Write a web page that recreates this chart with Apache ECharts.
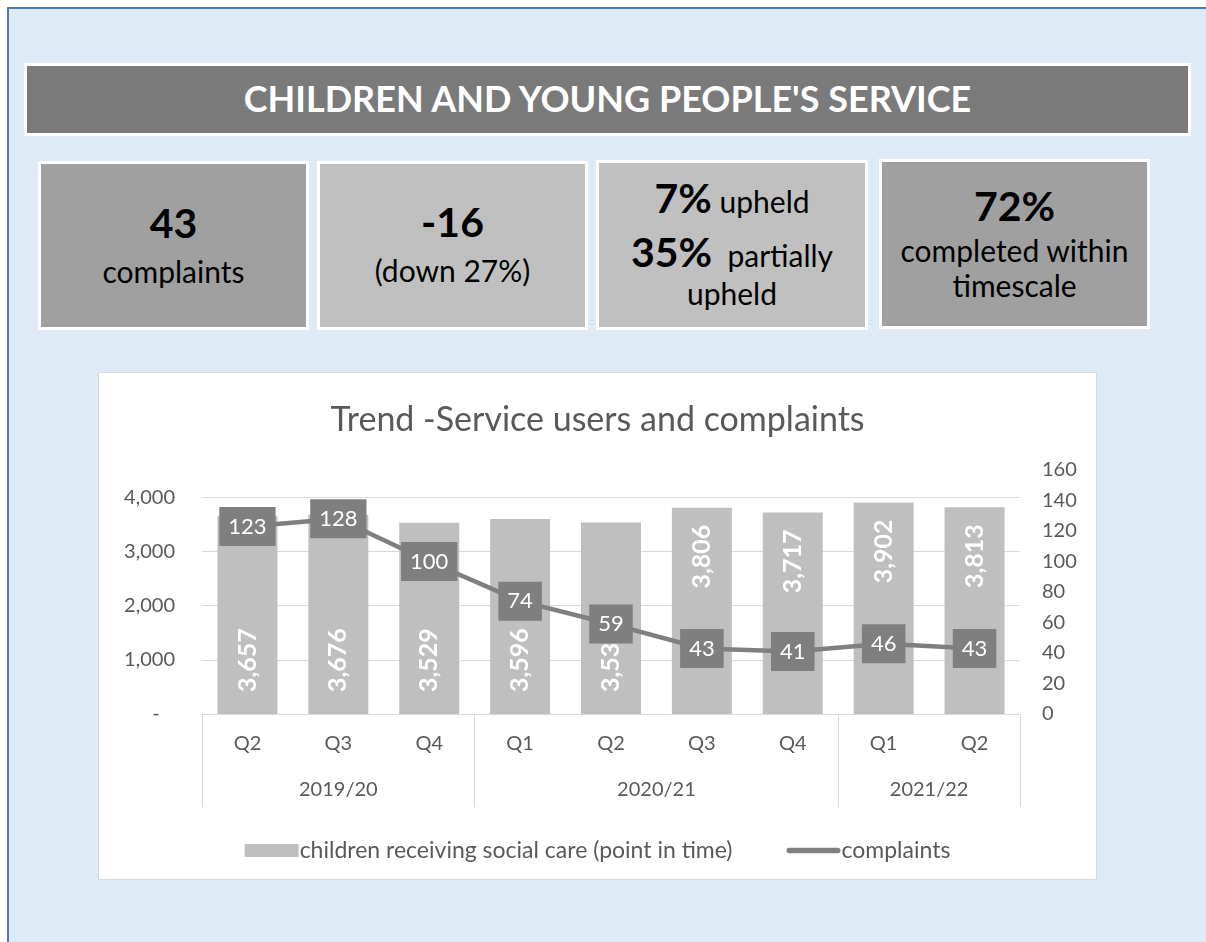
<!DOCTYPE html>
<html>
<head>
<meta charset="utf-8">
<script src="https://cdn.jsdelivr.net/npm/echarts@6/dist/echarts.min.js"></script>
<style>
  html, body { margin: 0; padding: 0; overflow: hidden; background: #ffffff; font-family: Lato, "Noto Sans", sans-serif; }
  body { position: relative; width: 1206px; height: 942px; }
  #frame { position: absolute; left: 7px; top: 7px; right: 0; bottom: 0; background: #deeaf6; border-top: 2px solid #4f7bad; border-left: 2px solid #4f7bad; }
  .box { position: absolute; box-sizing: border-box; border: 3px solid #ffffff; }
  #header { left: 24px; top: 63px; width: 1167px; height: 73px; background: #7a7a7a; color: #fff; font-weight: bold; font-size: 36px; text-align: center; line-height: 64px; }
  .kpi { color: #000; }
  .ln { position: absolute; left: 0; right: 0; text-align: center; line-height: 1.2; white-space: nowrap; }
  .big { font-weight: bold; font-size: 41px; }
  .sm { font-size: 30px; font-weight: normal; }
  #chartWrap { position: absolute; left: 98px; top: 372px; width: 999px; height: 508px; box-sizing: border-box; border: 1px solid #d9d9d9; background: #fff; }
  #chart { position: absolute; left: 0; top: 0; width: 997px; height: 506px; }
</style>
</head>
<body>
<div id="frame"></div>
<div id="header" class="box">CHILDREN AND YOUNG PEOPLE'S SERVICE</div>

<div class="box kpi" style="left:38px;top:161px;width:271px;height:169px;background:#a0a0a0;">
  <div class="ln big" style="top:34px;">43</div>
  <div class="ln sm" style="top:89px;">complaints</div>
</div>
<div class="box kpi" style="left:317px;top:161px;width:271px;height:169px;background:#c0c0c0;">
  <div class="ln big" style="top:33px;">-16</div>
  <div class="ln sm" style="top:88px;">(down 27%)</div>
</div>
<div class="box kpi" style="left:596px;top:160px;width:272px;height:170px;background:#c0c0c0;">
  <div class="ln big" style="top:10px;">7%<span class="sm"> upheld</span></div>
  <div class="ln big" style="top:64px;">35%<span class="sm">&nbsp; partially</span></div>
  <div class="ln sm" style="top:112px;">upheld</div>
</div>
<div class="box kpi" style="left:879px;top:159px;width:271px;height:170px;background:#a0a0a0;">
  <div class="ln big" style="top:19px;">72%</div>
  <div class="ln sm" style="top:70px;">completed within</div>
  <div class="ln sm" style="top:105px;">timescale</div>
</div>

<div id="chartWrap"><div id="chart"></div></div>

<script>
// ---- data ----
const quarters = ['Q2', 'Q3', 'Q4', 'Q1', 'Q2', 'Q3', 'Q4', 'Q1', 'Q2'];
const yearGroups = ['2019/20', '2020/21', '2021/22'];
const yearGroupSizes = [3, 4, 2];
const serviceUsers = [3657, 3676, 3529, 3596, 3532, 3806, 3717, 3902, 3813];
const complaints = [123, 128, 100, 74, 59, 43, 41, 46, 43];
const leftTicks = { min: 0, max: 4500, interval: 1000 };
const rightTicks = { min: 0, max: 160, interval: 20 };
const seriesNames = ['children receiving social care (point in time)', 'complaints'];

// group boundaries / centers derived from group sizes
const bounds = [0];
yearGroupSizes.forEach(s => bounds.push(bounds[bounds.length - 1] + s));
const centers = yearGroupSizes.map((s, i) => bounds[i] + s / 2);

const topLabelFrom = 5; // bar labels drawn at the top from this index on
const fmt = v => v.toLocaleString('en-US');
const lineIcon = 'path://M3,0 L55,0 A3,3 0 0 1 55,6 L3,6 A3,3 0 0 1 3,0 Z';

const chart = echarts.init(document.getElementById('chart'));
chart.setOption({
  textStyle: { fontFamily: 'Lato, "Noto Sans", sans-serif' },
  animation: false,
  title: {
    text: 'Trend -Service users and complaints',
    left: 'center', top: 25,
    textStyle: { fontSize: 34, fontWeight: 'normal', color: '#595959' }
  },
  legend: {
    top: 461, left: 'center',
    itemWidth: 54, itemHeight: 13, itemGap: 54,
    textStyle: { fontSize: 23, color: '#595959', padding: [0, 0, 0, -4] },
    data: [
      { name: seriesNames[0], icon: 'rect' },
      { name: seriesNames[1], icon: lineIcon, itemStyle: { color: '#7f7f7f' } }
    ]
  },
  grid: { left: 103, right: 76, top: 97, bottom: 165, containLabel: false },
  xAxis: [
    {
      type: 'category', data: quarters, position: 'bottom',
      axisLine: { lineStyle: { color: '#d9d9d9', width: 1 } },
      axisTick: { show: false },
      axisLabel: { fontSize: 20, color: '#595959', margin: 20 }
    },
    {
      type: 'value', min: 0, max: bounds[bounds.length - 1], position: 'bottom',
      axisLine: { show: false }, splitLine: { show: false },
      axisTick: { show: true, customValues: bounds, length: 93, lineStyle: { color: '#d9d9d9', width: 1 } },
      axisLabel: {
        customValues: centers, fontSize: 20, color: '#595959', margin: 66,
        formatter: v => { const i = centers.findIndex(c => Math.abs(c - v) < 1e-6); return i >= 0 ? yearGroups[i] : ''; }
      }
    }
  ],
  yAxis: [
    {
      type: 'value', position: 'left', min: leftTicks.min, max: leftTicks.max, interval: leftTicks.interval,
      axisLine: { show: false }, axisTick: { show: false },
      splitLine: { show: true, showMaxLine: false, lineStyle: { color: '#d9d9d9', width: 1 } },
      axisLabel: {
        fontSize: 20, color: '#595959', margin: 27,
        formatter: v => (v % leftTicks.interval !== 0) ? '' : (v === 0 ? '-   ' : fmt(v))
      }
    },
    {
      type: 'value', position: 'right', min: rightTicks.min, max: rightTicks.max, interval: rightTicks.interval,
      axisLine: { show: false }, axisTick: { show: false }, splitLine: { show: false },
      axisLabel: { fontSize: 20, color: '#595959', margin: 22 }
    }
  ],
  series: [
    {
      name: seriesNames[0], type: 'bar', xAxisIndex: 0, yAxisIndex: 0,
      barWidth: 60,
      itemStyle: { color: '#bfbfbf' },
      label: { show: true, rotate: 90, color: '#ffffff', fontSize: 25, fontWeight: 'bold', formatter: p => fmt(p.value) },
      data: serviceUsers.map((v, i) => ({
        value: v,
        label: i >= topLabelFrom
          ? { position: 'insideTop', align: 'right', verticalAlign: 'middle', distance: 17 }
          : { position: 'insideBottom', align: 'left', verticalAlign: 'middle', distance: 22 }
      })),
      z: 2
    },
    {
      name: seriesNames[1], type: 'line', xAxisIndex: 0, yAxisIndex: 1,
      data: complaints,
      z: 5,
      symbol: 'rect', symbolSize: 4,
      itemStyle: { color: '#7f7f7f' },
      lineStyle: { color: '#7f7f7f', width: 4.5 },
      label: {
        show: true, position: 'inside', color: '#ffffff', fontSize: 22,
        backgroundColor: '#7f7f7f', padding: [9, 9, 8, 9]
      }
    }
  ]
});
</script>
</body>
</html>
